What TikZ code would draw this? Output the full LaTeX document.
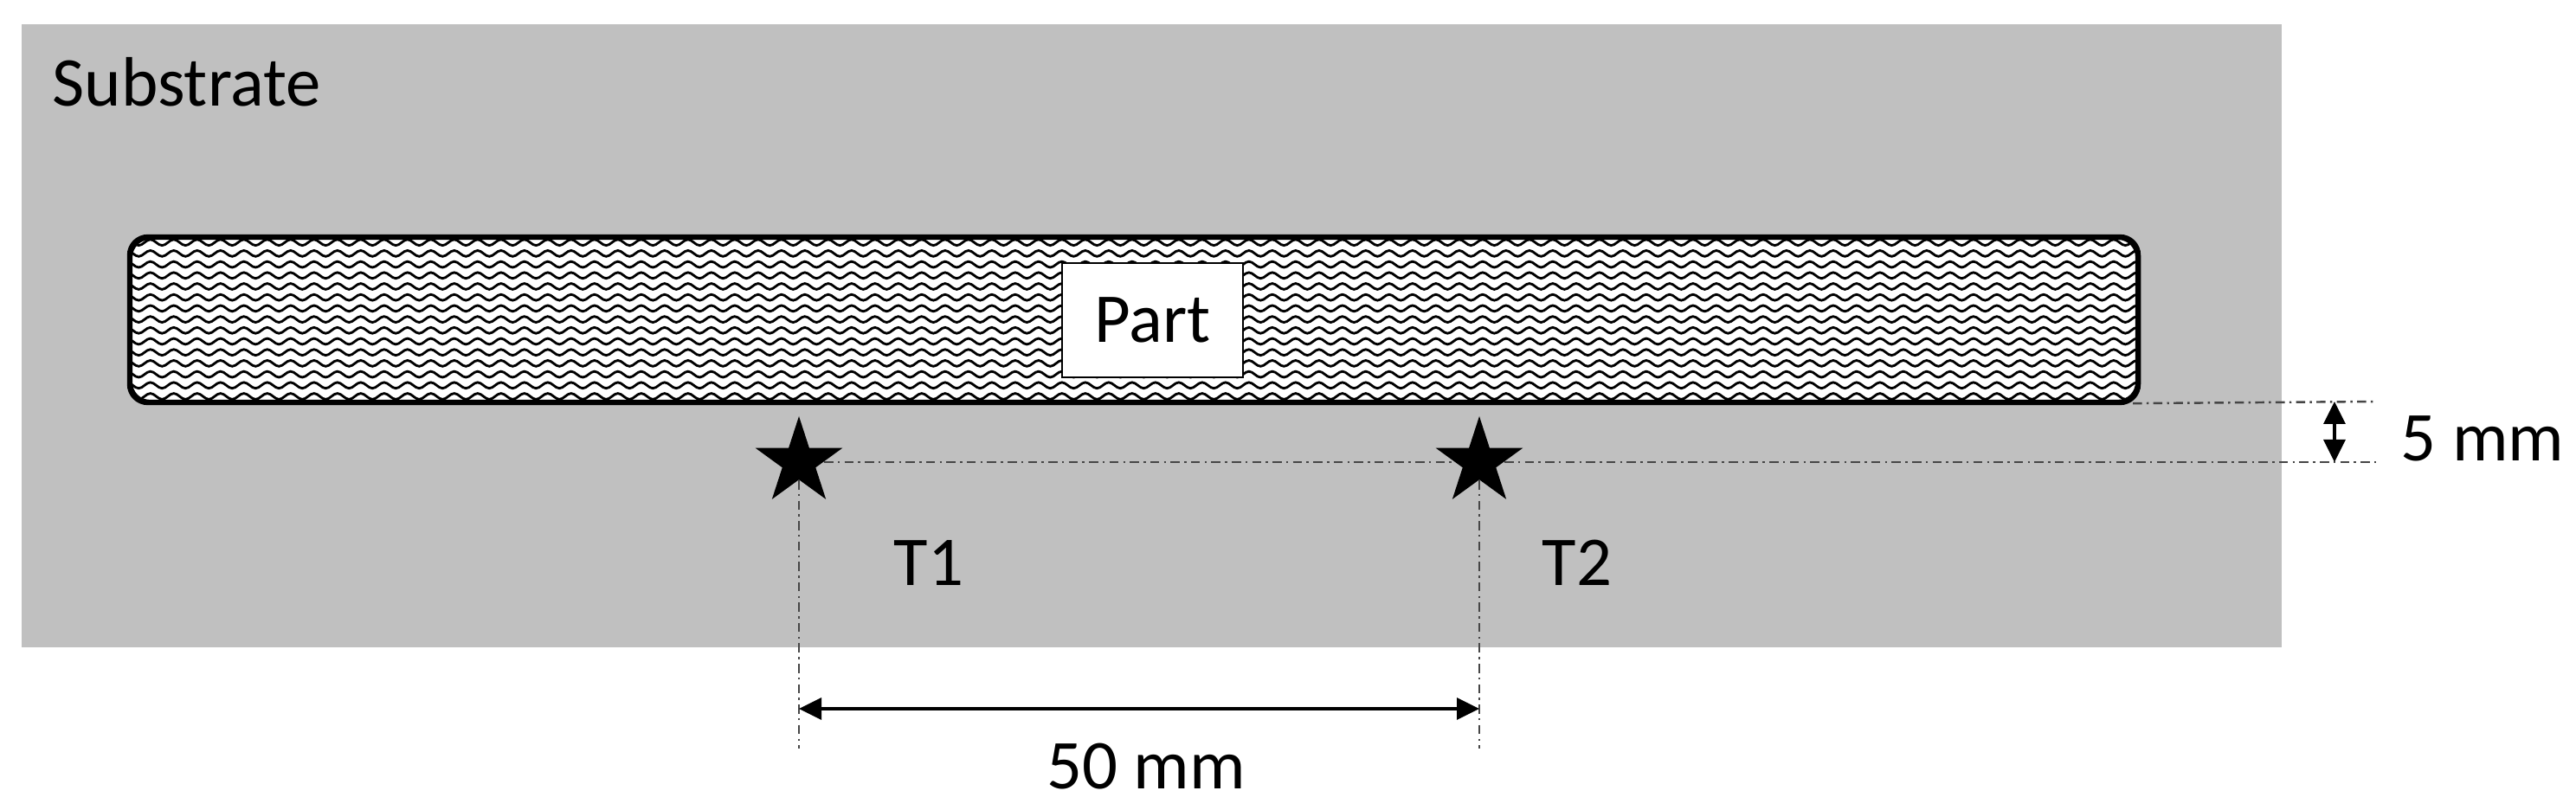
\documentclass[tikz,border=0pt]{standalone}
\usepackage{fontspec}
\setmainfont{Carlito}
\usetikzlibrary{arrows.meta, shapes.geometric}
\definecolor{substrategray}{RGB}{192,192,192}
\definecolor{linegray}{RGB}{70,70,70}

\begin{document}
\begin{tikzpicture}[
    font=\fontsize{23}{27}\selectfont,
    txt/.style={inner sep=0pt, anchor=base},
    target/.style={star, star points=5, star point ratio=2.618, minimum size=1.06cm, inner sep=0pt, fill=black},
    centerline/.style={draw=linegray, line width=0.7pt, dash pattern=on 3pt off 1.5pt on 0.7pt off 1.5pt},
    dimarrow/.style={line width=0.9pt, {Triangle[length=0.26cm,width=0.25cm]}-{Triangle[length=0.26cm,width=0.25cm]}}
  ]
  \useasboundingbox (0,0) rectangle (29.76,9.35);

  \node[fill=substrategray, minimum width=26.11cm, minimum height=7.20cm, inner sep=0pt] (substrate) at (13.305,5.47) {};
  \node[txt, anchor=base west] (sublab) at (0.60,8.12) {Substrate};

  \node[draw, line width=1.2pt, fill=white, rounded corners=0.22cm, minimum width=23.18cm, minimum height=1.89cm, inner sep=0pt] (strip) at (13.10,5.655) {};
  % Wave fill
  \begin{scope}
    \clip[rounded corners=0.22cm] (strip.south west) rectangle (strip.north east);
    \foreach \y in {4.77,4.897,...,6.65}
      \draw[line width=0.8pt] (1.4,\y) \foreach \k in {0,...,86} {
          sin ++(0.0675,0.034) cos ++(0.0675,-0.034) sin ++(0.0675,-0.034) cos ++(0.0675,0.034)};
  \end{scope}
  \draw[line width=1.2pt, rounded corners=0.22cm] (strip.south west) rectangle (strip.north east);
  \node[draw, line width=0.8pt, fill=white, minimum width=2.09cm, minimum height=1.32cm, inner sep=0pt] (part) at (13.315,5.65) {Part};

  \node[target] (t1) at (9.23,4.01) {};
  \node[target] (t2) at (17.09,4.01) {};
  \node[txt] (t1lab) at (10.73,2.59) {T1};
  \node[txt] (t2lab) at (18.22,2.59) {T2};

  \coordinate (h5top) at (27.45,4.71);
  \coordinate (h5bot) at (27.45,4.01);
  \coordinate (v1end) at (9.23,0.70);
  \coordinate (v2end) at (17.09,0.70);
  \coordinate (a50l) at (9.23,1.16);
  \coordinate (a50r) at (17.09,1.16);
  \coordinate (a5t) at (26.97,4.71);
  \coordinate (a5b) at (26.97,4.01);

  % Center lines
  \draw[centerline] ([xshift=-0.07cm]strip.south east) -- (h5top);
  \draw[centerline] (t1.east) -- (t2.west);
  \draw[centerline] (t2.east) -- (h5bot);
  \draw[centerline] (t1.south) -- (v1end);
  \draw[centerline] (t2.south) -- (v2end);

  % Dimensions
  \draw[dimarrow] (a50l) -- (a50r);
  \draw[dimarrow] (a5t) -- (a5b);
  \node[txt] (dim50) at (13.24,0.24) {50 mm};
  \node[txt] (dim5) at (28.68,4.02) {5 mm};
\end{tikzpicture}
\end{document}
